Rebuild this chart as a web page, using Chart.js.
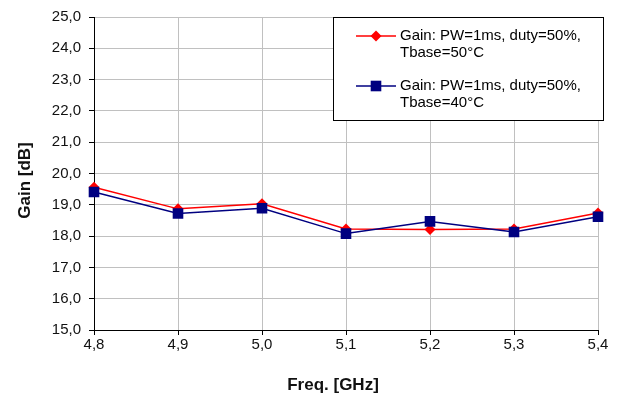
<!DOCTYPE html>
<html>
<head>
<meta charset="utf-8">
<script src="https://cdn.jsdelivr.net/npm/chart.js@4.4.1/dist/chart.umd.min.js"></script>
<style>
  body { margin: 0; background: #fff; }
  #wrap { width: 617px; height: 403px; }
</style>
</head>
<body>
<div id="wrap"><canvas id="gainChart" width="617" height="403"></canvas></div>
<script>
// frequency points and measured gain for the two base temperatures
const freqLabels = ['4,8', '4,9', '5,0', '5,1', '5,2', '5,3', '5,4'];
const gainT50 = [19.56, 18.87, 19.03, 18.23, 18.21, 18.23, 18.74];
const gainT40 = [19.41, 18.72, 18.89, 18.08, 18.47, 18.13, 18.62];
const seriesNames = [
  ['Gain: PW=1ms, duty=50%,', 'Tbase=50°C'],
  ['Gain: PW=1ms, duty=50%,', 'Tbase=40°C']
];
const axisTitles = { x: 'Freq. [GHz]', y: 'Gain [dB]' };
const gainMin = 15, gainMax = 25, gainStep = 1;

const FONT = '"Liberation Sans", Arial, sans-serif';
const fmt = v => Number(v).toFixed(1).replace('.', ',');

function drawMarker(ctx, style, x, y, r) {
  ctx.beginPath();
  if (style === 'rectRot') {
    ctx.moveTo(x, y - r); ctx.lineTo(x + r, y); ctx.lineTo(x, y + r); ctx.lineTo(x - r, y);
    ctx.closePath();
  } else {
    const s = r * Math.SQRT1_2;
    ctx.rect(x - s, y - s, 2 * s, 2 * s);
  }
  ctx.fill();
}

// boxed legend with two-line entries, top right of the plot
const boxLegend = {
  id: 'boxLegend',
  afterDraw(chart) {
    const { ctx, chartArea } = chart;
    const w = 270, h = 103;
    const x = chartArea.right - 265, y = chartArea.top;
    ctx.save();
    ctx.fillStyle = '#fff';
    ctx.fillRect(x, y, w, h);
    ctx.strokeStyle = '#000';
    ctx.lineWidth = 1;
    ctx.strokeRect(x + 0.5, y + 0.5, w, h);
    ctx.font = '15px ' + FONT;
    ctx.textBaseline = 'middle';
    chart.data.datasets.forEach((ds, i) => {
      const rowY = y + 19 + i * 50;
      ctx.strokeStyle = ds.borderColor;
      ctx.lineWidth = 1.5;
      ctx.beginPath();
      ctx.moveTo(x + 23, rowY);
      ctx.lineTo(x + 63, rowY);
      ctx.stroke();
      ctx.fillStyle = ds.backgroundColor;
      drawMarker(ctx, ds.pointStyle, x + 43, rowY, ds.pointRadius);
      ctx.fillStyle = '#000';
      seriesNames[i].forEach((t, k) => ctx.fillText(t, x + 67, rowY + k * 17));
    });
    ctx.restore();
  }
};

// axis titles, placed a little off the plot centre like the office-style layout
const axisTitlePlugin = {
  id: 'axisTitlePlugin',
  afterDraw(chart) {
    const { ctx, chartArea: a } = chart;
    ctx.save();
    ctx.fillStyle = '#111';
    ctx.font = 'bold 17px ' + FONT;
    ctx.textAlign = 'center';
    ctx.textBaseline = 'middle';
    ctx.fillText(axisTitles.x, (a.left + a.right) / 2 - 13, chart.height - 18);
    ctx.translate(25, (a.top + a.bottom) / 2 + 7);
    ctx.rotate(-Math.PI / 2);
    ctx.fillText(axisTitles.y, 0, 0);
    ctx.restore();
  }
};

new Chart(document.getElementById('gainChart'), {
  type: 'line',
  data: {
    labels: freqLabels,
    datasets: [{
      label: seriesNames[0].join(' '),
      data: gainT50,
      borderColor: '#ff0000',
      backgroundColor: '#ff0000',
      borderWidth: 1.5,
      pointStyle: 'rectRot',
      pointRadius: 5.5,
      pointBorderWidth: 0,
      tension: 0,
      order: 1
    }, {
      label: seriesNames[1].join(' '),
      data: gainT40,
      borderColor: '#000080',
      backgroundColor: '#000080',
      borderWidth: 1.5,
      pointStyle: 'rect',
      pointRadius: 7.5,
      pointBorderWidth: 0,
      tension: 0,
      order: 0
    }]
  },
  plugins: [boxLegend, axisTitlePlugin],
  options: {
    responsive: false,
    animation: false,
    layout: { padding: { left: 0, right: 19, top: 14, bottom: 0 } },
    scales: {
      x: {
        type: 'category',
        offset: false,
        grid: { color: '#c0c0c0', tickColor: '#000', tickLength: 5, offset: false },
        border: { color: '#000', width: 1 },
        ticks: { color: '#111', font: { family: FONT, size: 15 }, padding: 1, maxRotation: 0 },
        afterFit: s => { s.height = 73; }
      },
      y: {
        min: gainMin, max: gainMax,
        grid: { color: '#c0c0c0', tickColor: '#000', tickLength: 5 },
        border: { color: '#000', width: 1 },
        ticks: { stepSize: gainStep, color: '#111', font: { family: FONT, size: 15 }, padding: 8, callback: fmt },
        afterFit: s => { s.width = 94; }
      }
    },
    plugins: {
      legend: { display: false },
      tooltip: { enabled: false }
    }
  }
});
</script>
</body>
</html>
